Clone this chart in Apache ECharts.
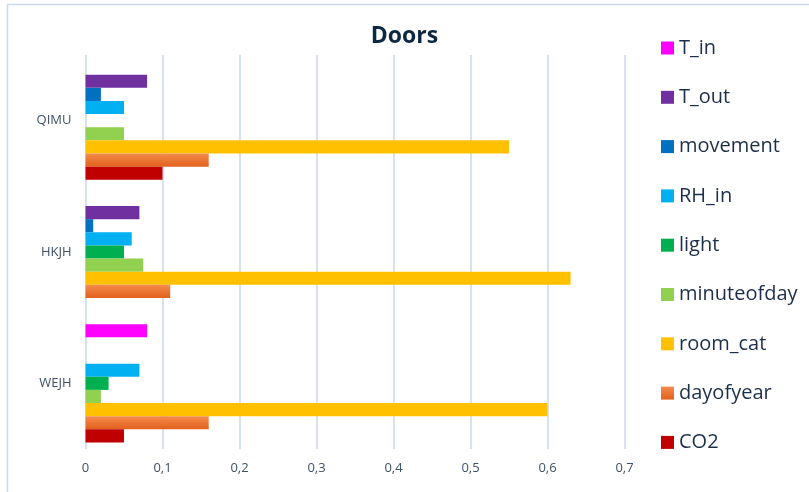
<!DOCTYPE html>
<html>
<head>
<meta charset="utf-8">
<script src="https://cdn.jsdelivr.net/npm/echarts@6/dist/echarts.min.js"></script>
<style>
html,body{margin:0;padding:0;background:#fff;}
#c{width:809px;height:492px;}
</style>
</head>
<body>
<div id="c"></div>
<script>
const categories = ['WEJH', 'HKJH', 'QIMU'];
const seriesNames = ['T_in', 'T_out', 'movement', 'RH_in', 'light', 'minuteofday', 'room_cat', 'dayofyear', 'CO2'];
const CO2 = [0.05, 0, 0.10];
const dayofyear = [0.16, 0.11, 0.16];
const room_cat = [0.60, 0.63, 0.55];
const minuteofday = [0.02, 0.075, 0.05];
const light = [0.03, 0.05, 0];
const RH_in = [0.07, 0.06, 0.05];
const movement = [0, 0.01, 0.02];
const T_out = [0, 0.07, 0.08];
const T_in = [0.08, 0, 0];
const legendOrder = ['T_in', 'T_out', 'movement', 'RH_in', 'light', 'minuteofday', 'room_cat', 'dayofyear', 'CO2'];

const values = {CO2, dayofyear, room_cat, minuteofday, light, RH_in, movement, T_out, T_in};
const colors = {
  CO2: '#c00000',
  dayofyear: new echarts.graphic.LinearGradient(0, 0, 0, 1, [
    {offset: 0, color: '#f48c4c'}, {offset: 1, color: '#e2601c'}]),
  room_cat: '#ffc000',
  minuteofday: '#92d050',
  light: '#00b050',
  RH_in: '#00b0f0',
  movement: '#0070c0',
  T_out: '#7030a0',
  T_in: '#ff00ff'
};

const FONT = '"Open Sans", sans-serif';
const chart = echarts.init(document.getElementById('c'), null, {renderer: 'canvas'});
chart.setOption({
  animation: false,
  backgroundColor: '#ffffff',
  title: {
    text: 'Doors',
    left: 399.5,
    textAlign: 'center',
    top: 20,
    textStyle: {fontFamily: FONT, fontSize: 23, fontWeight: 'bold', color: '#0e2841'}
  },
  graphic: [{
    type: 'rect',
    shape: {x: 7.5, y: 4.5, width: 900, height: 600},
    style: {fill: null, stroke: '#c9daef', lineWidth: 1.5},
    silent: true
  }],
  legend: {
    orient: 'vertical',
    left: 656,
    top: 31,
    itemWidth: 13,
    itemHeight: 13,
    itemGap: 25.3,
    icon: 'rect',
    data: legendOrder,
    textStyle: {fontFamily: FONT, fontSize: 20, color: '#1c2f4a', lineHeight: 24}
  },
  grid: {left: 85.5, right: 184.5, top: 55, bottom: 43, containLabel: false},
  xAxis: {
    type: 'value',
    min: 0,
    max: 0.7,
    interval: 0.1,
    axisLine: {show: false},
    axisTick: {show: false},
    splitLine: {show: true, lineStyle: {color: '#c6d8f0', width: 1.5}},
    axisLabel: {
      fontFamily: FONT, fontSize: 13, color: '#3f5068', margin: 13,
      formatter: v => (Math.round(v * 10) / 10).toString().replace('.', ',')
    }
  },
  yAxis: {
    type: 'category',
    data: categories,
    axisLine: {show: false},
    axisTick: {show: false},
    axisLabel: {fontFamily: FONT, fontSize: 13, color: '#3f5068', margin: 14}
  },
  series: seriesNames.map(n => ({
    name: n,
    type: 'bar',
    data: values[n],
    barGap: '0%',
    barCategoryGap: '10%',
    itemStyle: {color: colors[n]}
  }))
});
</script>
</body>
</html>
